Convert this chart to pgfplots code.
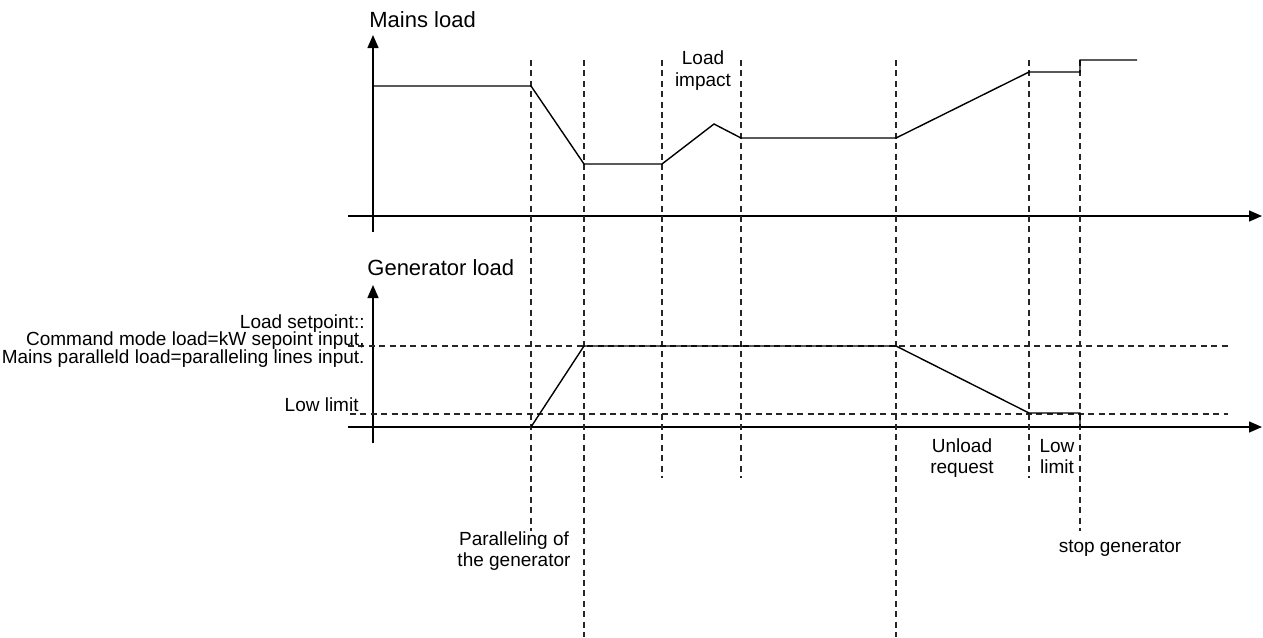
\documentclass[border=0pt]{standalone}
\usepackage{pgfplots}
\pgfplotsset{compat=1.18}
\usepackage{fontspec}
\setmainfont{Liberation Sans}
\usetikzlibrary{arrows.meta}

% picture drawn in pixel units of the reference: 1 px = 0.5pt, y downwards
\newcommand{\bigtxt}{\fontsize{11}{11}\selectfont}
\newcommand{\smtxt}{\fontsize{9.5}{9.5}\selectfont}

\begin{document}
\begin{tikzpicture}
\begin{axis}[
    hide axis,
    scale only axis,
    width=631.5pt, height=318.5pt,
    xmin=0, xmax=1263, ymin=0, ymax=637,
    y dir=reverse,
    clip=false,
    every axis plot/.append style={mark=none},
    ax/.style={black, line width=0.7pt, -{Triangle[length=6.5pt,width=5.5pt]}},
    dsh/.style={black!85, line width=0.6pt, dash pattern=on 3pt off 2.2pt},
    ld/.style={black, line width=0.7pt},
]
% keeps the page as large as the reference
\addplot[draw=none] coordinates {(0,0)(1263,637)};

% axes
\addplot[ax] coordinates {(373,232)(373,35)};
\addplot[ax] coordinates {(348,216)(1262,216)};
\addplot[ax] coordinates {(373,443)(373,285)};
\addplot[ax] coordinates {(348,427)(1262,427)};

% event lines
\addplot[dsh] coordinates {(531,60)(531,531)};
\addplot[dsh] coordinates {(584,60)(584,637)};
\addplot[dsh] coordinates {(662,60)(662,478)};
\addplot[dsh] coordinates {(741,60)(741,478)};
\addplot[dsh] coordinates {(896,60)(896,637)};
\addplot[dsh] coordinates {(1029,60)(1029,478)};
\addplot[dsh] coordinates {(1080,60)(1080,531)};

% setpoint and low limit
\addplot[dsh] coordinates {(348,346)(1228,346)};
\addplot[dsh] coordinates {(350,414)(1228,414)};

% mains load
\addplot[ld] coordinates {
    (373,86)(531,86)(584,164)(662,164)(714,124)(741,138)(896,138)
    (1029,72)(1080,72)(1080,60)(1137,60)
};

% generator load
\addplot[ld] coordinates {
    (531,427)(584,346)(896,346)(1029,413)(1080,413)(1080,427)
};

% labels
\tikzset{every node/.style={inner sep=0pt}}
\node[anchor=base west] at (axis cs:369,27) {\bigtxt Mains load};
\node[anchor=base west] at (axis cs:367,275) {\bigtxt Generator load};

\node[anchor=base east] at (axis cs:365,328) {\smtxt Load setpoint::};
\node[anchor=base east] at (axis cs:365,345) {\smtxt Command mode load=kW sepoint input,};
\node[anchor=base east] at (axis cs:365,363) {\smtxt Mains paralleld load=paralleling lines input.};
\node[anchor=base east] at (axis cs:359,411) {\smtxt Low limit};

\node[anchor=base] at (axis cs:703,64) {\smtxt Load};
\node[anchor=base] at (axis cs:703,86) {\smtxt impact};

\node[anchor=base] at (axis cs:962,452) {\smtxt Unload};
\node[anchor=base] at (axis cs:962,473) {\smtxt request};
\node[anchor=base] at (axis cs:1057,452) {\smtxt Low};
\node[anchor=base] at (axis cs:1057,473) {\smtxt limit};

\node[anchor=base] at (axis cs:514,545) {\smtxt Paralleling of};
\node[anchor=base] at (axis cs:514,566) {\smtxt the generator};

\node[anchor=base] at (axis cs:1120,552) {\smtxt stop generator};
\end{axis}
\end{tikzpicture}
\end{document}
